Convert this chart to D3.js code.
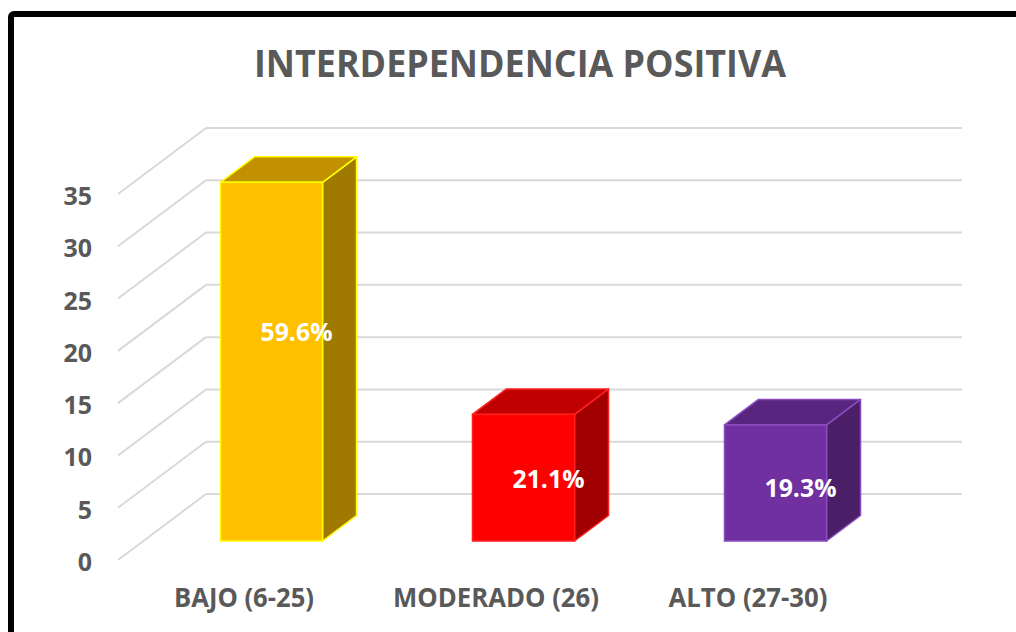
<!DOCTYPE html>
<html>
<head>
<meta charset="utf-8">
<script src="https://cdn.jsdelivr.net/npm/d3@7"></script>
<style>
  html, body { margin: 0; padding: 0; background: #fff; }
  svg { display: block; }
  text { font-family: "Open Sans", "Noto Sans", sans-serif; font-weight: 700; }
</style>
</head>
<body>
<script>
// data (n = 57)
const categories = ["BAJO (6-25)", "MODERADO (26)", "ALTO (27-30)"];
const counts = [34, 12, 11];
const percentLabels = ["59.6%", "21.1%", "19.3%"];
const yTicks = [0, 5, 10, 15, 20, 25, 30, 35];
const title = "INTERDEPENDENCIA POSITIVA";

const W = 1016;
const H = 632;

// colours per bar: front, top, side, edge
const fronts = ["#FFC000", "#FF0000", "#7030A0"];
const tops   = ["#C29100", "#C00000", "#58257F"];
const sides  = ["#A07A00", "#A00000", "#4A1F68"];
const edges  = ["#FFFF00", "#FF2020", "#8A4CC0"];

// oblique "3d" set up
const backX0 = 206, backX1 = 962;
const depth = { dx: -88, dy: 66 };       // back wall -> front of floor
const barDepth = { dx: 34, dy: -25.5 };  // front face -> back face of a bar
const labelNudge = [-31, 0, 4];

const yBack = d3.scaleLinear().domain([0, 35]).range([494, 128]);
const yBar = d3.scaleLinear().domain([0, 35]).range([541, 541 - 35 * 10.55]);

const x = d3.scaleBand()
  .domain(categories)
  .range([145.5, 901.5])
  .paddingInner(0.595)
  .paddingOuter(0.2975);

const svg = d3.select("body")
  .append("svg")
    .attr("width", W)
    .attr("height", H);

// outer frame, only top + left show
svg.append("rect")
  .attr("x", 11)
  .attr("y", 14)
  .attr("width", W + 40)
  .attr("height", H + 40)
  .attr("rx", 3)
  .attr("fill", "#fff")
  .attr("stroke", "#000")
  .attr("stroke-width", 6);

svg.append("text")
  .attr("x", 520)
  .attr("y", 62)
  .attr("text-anchor", "middle")
  .attr("dominant-baseline", "central")
  .attr("font-size", 37)
  .attr("fill", "#595959")
  .attr("textLength", 532)
  .attr("lengthAdjust", "spacingAndGlyphs")
  .text(title);

// gridlines: back wall + side wall
const grid = svg.append("g")
  .attr("stroke", "#D9D9D9")
  .attr("stroke-width", 2)
  .attr("fill", "none");

grid.selectAll(".back")
  .data(yTicks)
  .join("line")
    .attr("class", "back")
    .attr("x1", backX0)
    .attr("x2", backX1)
    .attr("y1", d => yBack(d))
    .attr("y2", d => yBack(d));

grid.selectAll(".side")
  .data(yTicks)
  .join("line")
    .attr("class", "side")
    .attr("x1", backX0)
    .attr("y1", d => yBack(d))
    .attr("x2", backX0 + depth.dx)
    .attr("y2", d => yBack(d) + depth.dy);

svg.append("g")
  .selectAll("text")
  .data(yTicks)
  .join("text")
    .attr("x", 92)
    .attr("y", d => yBack(d) + depth.dy + 1)
    .attr("text-anchor", "end")
    .attr("dominant-baseline", "central")
    .attr("font-size", 25)
    .attr("fill", "#595959")
    .text(d => d);

// bars
const bars = svg.append("g")
  .selectAll("g")
  .data(counts)
  .join("g");

bars.each(function (v, i) {
  const g = d3.select(this);
  const x0 = x(categories[i]);
  const x1 = x0 + x.bandwidth();
  const yt = yBar(v);
  const yb = yBar(0);
  const dx = barDepth.dx, dy = barDepth.dy;

  g.append("polygon")
    .attr("points", [[x1, yt], [x1 + dx, yt + dy], [x1 + dx, yb + dy], [x1, yb]].join(" "))
    .attr("fill", sides[i])
    .attr("stroke", edges[i])
    .attr("stroke-width", 1.5)
    .attr("stroke-linejoin", "round");

  g.append("polygon")
    .attr("points", [[x0, yt], [x0 + dx, yt + dy], [x1 + dx, yt + dy], [x1, yt]].join(" "))
    .attr("fill", tops[i])
    .attr("stroke", edges[i])
    .attr("stroke-width", 1.5)
    .attr("stroke-linejoin", "round");

  g.append("rect")
    .attr("x", x0)
    .attr("y", yt)
    .attr("width", x1 - x0)
    .attr("height", yb - yt)
    .attr("fill", fronts[i])
    .attr("stroke", edges[i])
    .attr("stroke-width", 1.5);

  g.append("text")
    .attr("x", (x0 + x1) / 2 + 25)
    .attr("y", yBar(v / 2) + labelNudge[i])
    .attr("text-anchor", "middle")
    .attr("dominant-baseline", "central")
    .attr("font-size", 25)
    .attr("fill", "#fff")
    .attr("textLength", 72)
    .attr("lengthAdjust", "spacingAndGlyphs")
    .text(percentLabels[i]);
});

// category labels along the front of the floor
svg.append("g")
  .selectAll("text")
  .data(categories)
  .join("text")
    .attr("x", d => x(d) + x.bandwidth() / 2 - 27.5)
    .attr("y", 597)
    .attr("text-anchor", "middle")
    .attr("dominant-baseline", "central")
    .attr("font-size", 26)
    .attr("fill", "#595959")
    .attr("textLength", (d, i) => [140, 206, 159][i])
    .attr("lengthAdjust", "spacingAndGlyphs")
    .text(d => d);
</script>
</body>
</html>
